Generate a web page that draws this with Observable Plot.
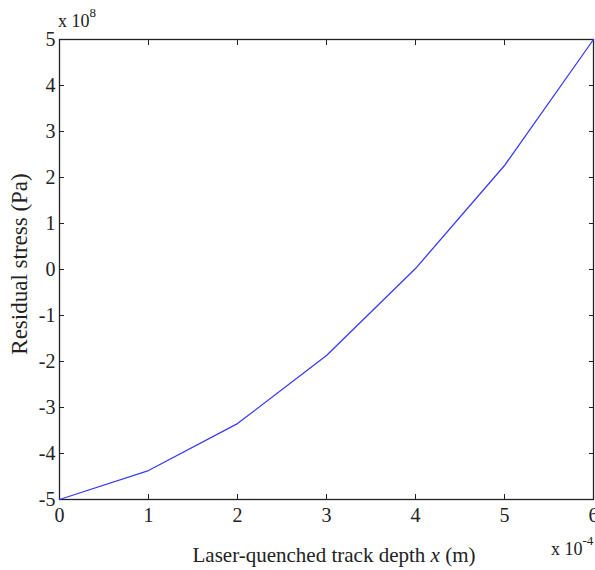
<!DOCTYPE html>
<html>
<head>
<meta charset="utf-8">
<script src="https://cdn.jsdelivr.net/npm/d3@7"></script>
<script src="https://cdn.jsdelivr.net/npm/@observablehq/plot@0.6"></script>
<style>
  html, body { margin: 0; padding: 0; background: #fff; }
  #chart { width: 595px; height: 570px; }
</style>
</head>
<body>
<div id="chart"></div>
<script>
// Data (x in units of 1e-4 m, stress in units of 1e8 Pa)
const depth = [0, 1, 2, 3, 4, 5, 6];
const stress = [-5, -4.37, -3.35, -1.87, 0.02, 2.26, 5];
const xTicks = [0, 1, 2, 3, 4, 5, 6];
const yTicks = [-5, -4, -3, -2, -1, 0, 1, 2, 3, 4, 5];
const yLabel = "Residual stress (Pa)";
const xExp = "-4";
const yExp = "8";

const data = depth.map((d, i) => ({x: d, y: stress[i]}));

const font = "'Liberation Serif', 'Times New Roman', serif";
const fmt = d => String(d); // plain hyphen minus like the original

const chart = Plot.plot({
  width: 595,
  height: 570,
  marginLeft: 59,
  marginRight: 2,
  marginTop: 39,
  marginBottom: 71,
  style: {fontFamily: font, fontSize: "20px", color: "#222", background: "#fff"},
  x: {domain: [0, 6]},
  y: {domain: [-5, 5]},
  marks: [
    // tick labels
    Plot.axisX(xTicks, {anchor: "bottom", tickSize: 0, tickPadding: 8, tickFormat: fmt, label: null, fontSize: 20}),
    Plot.axisY(yTicks, {anchor: "left", tickSize: 0, tickPadding: 4, tickFormat: fmt, label: null, fontSize: 20}),
    // inward ticks on all sides
    Plot.axisX(xTicks, {anchor: "bottom", tickSize: -5, tickFormat: () => "", label: null, stroke: "#222"}),
    Plot.axisX(xTicks, {anchor: "top", tickSize: -5, tickFormat: () => "", label: null, stroke: "#222"}),
    Plot.axisY(yTicks, {anchor: "left", tickSize: -5, tickFormat: () => "", label: null, stroke: "#222"}),
    Plot.axisY(yTicks, {anchor: "right", tickSize: -5, tickFormat: () => "", label: null, stroke: "#222"}),
    Plot.frame({stroke: "#222", strokeWidth: 1.3}),
    Plot.line(data, {x: "x", y: "y", stroke: "#3a3aff", strokeWidth: 1.3})
  ]
});

document.getElementById("chart").appendChild(chart);

// Annotations (axis titles and exponent multipliers) added to the SVG
const svg = d3.select(chart);
const g = svg.append("g").attr("font-family", font).attr("fill", "#222");

// x axis title with italic x
const xt = g.append("text")
  .attr("x", 334).attr("y", 562)
  .attr("text-anchor", "middle").attr("font-size", 21);
xt.append("tspan").text("Laser-quenched track depth ");
xt.append("tspan").attr("font-style", "italic").text("x");
xt.append("tspan").text(" (m)");

// y axis title
g.append("text")
  .attr("transform", "translate(27, 264) rotate(-90)")
  .attr("text-anchor", "middle").attr("font-size", 23)
  .text(yLabel);

// y multiplier: x 10^8
const ym = g.append("text").attr("x", 58).attr("y", 27)
  .attr("text-anchor", "start").attr("font-size", 18);
ym.append("tspan").text("x 10");
ym.append("tspan").attr("dy", -10).attr("font-size", 13).text(yExp);

// x multiplier: x 10^-4
const xm = g.append("text").attr("x", 551).attr("y", 555)
  .attr("text-anchor", "start").attr("font-size", 18);
xm.append("tspan").text("x 10");
xm.append("tspan").attr("dy", -10).attr("font-size", 13).text(xExp);
</script>
</body>
</html>
